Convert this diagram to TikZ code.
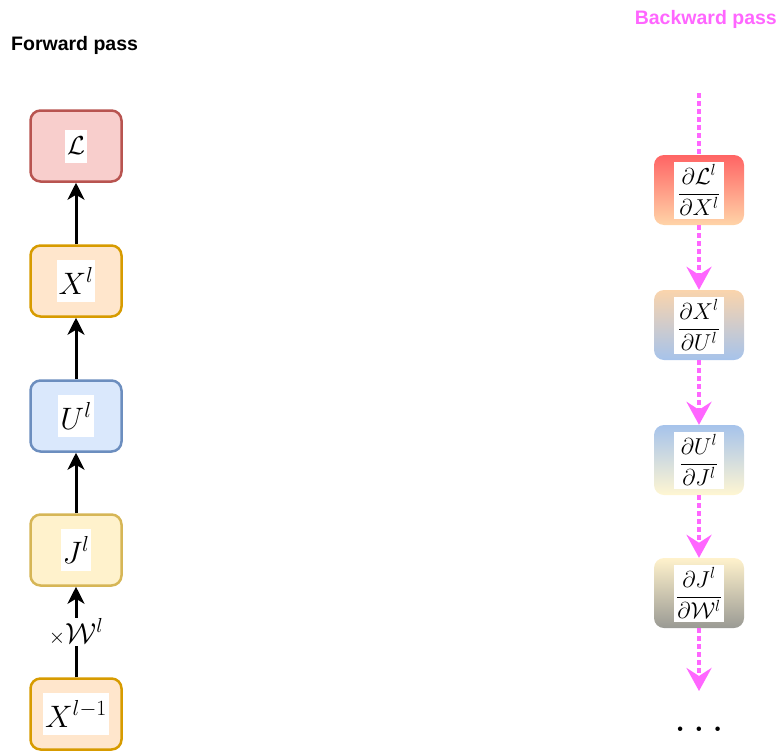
\RequirePackage{fix-cm}
\documentclass[tikz,border=0pt]{standalone}
\usepackage{fontspec}
\newfontfamily\headfont{Liberation Sans}
\usetikzlibrary{arrows.meta}
\definecolor{lossfill}{HTML}{F8CECC}
\definecolor{lossdraw}{HTML}{B85450}
\definecolor{orangefill}{HTML}{FFE6CC}
\definecolor{orangedraw}{HTML}{D79B00}
\definecolor{bluefill}{HTML}{DAE8FC}
\definecolor{bluedraw}{HTML}{6C8EBF}
\definecolor{yellowfill}{HTML}{FFF2CC}
\definecolor{yellowdraw}{HTML}{D6B656}
\definecolor{backpink}{HTML}{FF66FF}
\definecolor{gradred}{HTML}{FF6464}
\definecolor{gradpeach}{HTML}{FFD4A8}
\definecolor{gradorange}{HTML}{FAD4AC}
\definecolor{gradblue}{HTML}{A6C3EB}
\definecolor{gradcream}{HTML}{FFF6D2}
\definecolor{gradgrey}{HTML}{9A9A94}
\tikzset{
  fwdbox/.style={draw, line width=2.5pt, rounded corners=10pt, minimum width=91pt, minimum height=71pt, inner sep=0pt},
  bwdbox/.style={rounded corners=10pt, minimum width=90pt, minimum height=70pt, inner sep=0pt},
  fwdtext/.style={fill=white, inner sep=2pt, minimum height=42pt, font=\fontsize{31}{34}\selectfont},
  bwdtext/.style={fill=white, inner sep=1pt, minimum width=50pt, minimum height=57pt, font=\fontsize{23}{26}\selectfont},
  fwdarrow/.style={-{Stealth[length=17pt,width=17pt,inset=5pt]}, line width=3pt},
  bwdline/.style={backpink, line width=4.5pt, dash pattern=on 4.5pt off 3.5pt},
  bwdarrow/.style={bwdline, -{Stealth[length=23pt,width=25pt,inset=8pt]}},
  passtitle/.style={font=\headfont\bfseries\fontsize{19.5}{22}\selectfont, inner sep=0pt}
}
\begin{document}
\begin{tikzpicture}[x=1pt,y=-1pt]
	\useasboundingbox (0,0) rectangle (778,752);
	\node[passtitle, anchor=base west] (fwdtitle) at (11,50) {Forward pass};
	\node[passtitle, anchor=base east, text=backpink] (bwdtitle) at (777,25) {Backward pass};
	% forward pass
	\node[fwdbox, fill=lossfill, draw=lossdraw, label={[fwdtext, minimum height=33pt, font=\fontsize{26}{30}\selectfont]center:$\mathcal{L}$}] (loss) at (76,146) {};
	\node[fwdbox, fill=orangefill, draw=orangedraw, label={[fwdtext]center:$X^l$}] (xl) at (76,281) {};
	\node[fwdbox, fill=bluefill, draw=bluedraw, label={[fwdtext]center:$U^l$}] (ul) at (76,416) {};
	\node[fwdbox, fill=yellowfill, draw=yellowdraw, label={[fwdtext]center:$J^l$}] (jl) at (76,550) {};
	\node[fwdbox, fill=orangefill, draw=orangedraw, label={[fwdtext]center:$X^{l-1}$}] (xprev) at (76,714) {};
	\draw[fwdarrow] (xl) -- (loss);
	\draw[fwdarrow] (ul) -- (xl);
	\draw[fwdarrow] (jl) -- (ul);
	\draw[fwdarrow] (xprev) -- node[fill=white, inner sep=1pt, font=\fontsize{29}{32}\selectfont]{{\fontsize{21}{24}\selectfont$\times$}$\mathcal{W}^l$} (jl);
	% backward pass
	\coordinate (bwdstart) at (699,93);
	\coordinate (bwdend) at (699,691);
	\node[bwdbox, top color=gradred, bottom color=gradpeach, label={[bwdtext]center:$\displaystyle\frac{\partial\mathcal{L}^l}{\partial X^l}$}] (dldx) at (699,190) {};
	\node[bwdbox, top color=gradorange, bottom color=gradblue, label={[bwdtext]center:$\displaystyle\frac{\partial X^l}{\partial U^l}$}] (dxdu) at (699,325) {};
	\node[bwdbox, top color=gradblue, bottom color=gradcream, label={[bwdtext]center:$\displaystyle\frac{\partial U^l}{\partial J^l}$}] (dudj) at (699,460) {};
	\node[bwdbox, top color=yellowfill, bottom color=gradgrey, label={[bwdtext]center:$\displaystyle\frac{\partial J^l}{\partial \mathcal{W}^l}$}] (djdw) at (699,593) {};
	\node[anchor=base, inner sep=0pt] (dots) at (699,731) {\fontsize{31}{31}\selectfont\bfseries .\hspace{9pt}.\hspace{9pt}.};
	\draw[bwdline] (bwdstart) -- (dldx);
	\draw[bwdarrow] (dldx) -- (dxdu);
	\draw[bwdarrow] (dxdu) -- (dudj);
	\draw[bwdarrow] (dudj) -- (djdw);
	\draw[bwdarrow] (djdw) -- (bwdend);
\end{tikzpicture}
\end{document}
